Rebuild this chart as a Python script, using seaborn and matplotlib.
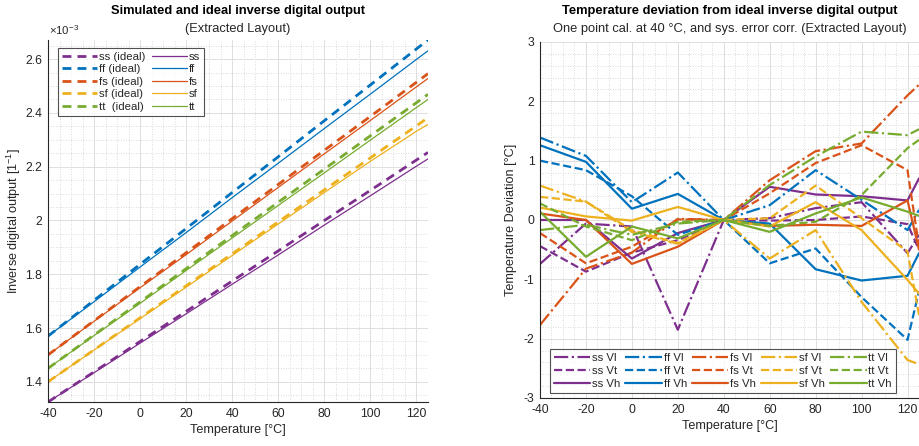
import matplotlib
matplotlib.use("Agg")
import matplotlib.pyplot as plt
from matplotlib.ticker import MultipleLocator, FuncFormatter, AutoMinorLocator
import seaborn as sns

sns.set_theme(style="white")
plt.rcParams["font.family"] = ["Liberation Sans", "DejaVu Sans"]
plt.rcParams["mathtext.fontset"] = "custom"
plt.rcParams["mathtext.rm"] = "Liberation Sans"
plt.rcParams["mathtext.it"] = "Liberation Sans:italic"
plt.rcParams["axes.unicode_minus"] = False

# ---------------- data ----------------
temps = [-40, -20, 0, 20, 40, 60, 80, 100, 120, 125]

corners = ["ss", "ff", "fs", "sf", "tt"]
colors = {"ss": "#7E2F8E", "ff": "#0072BD", "fs": "#D95319",
          "sf": "#EDB120", "tt": "#77AC30"}

# inverse digital output, units of 1e-3
ideal_ss = [1.325, 1.437, 1.550, 1.662, 1.775, 1.887, 2.000, 2.112, 2.225, 2.253]
ideal_ff = [1.570, 1.703, 1.837, 1.970, 2.104, 2.237, 2.371, 2.504, 2.638, 2.671]
ideal_fs = [1.500, 1.627, 1.754, 1.880, 2.007, 2.134, 2.261, 2.387, 2.514, 2.546]
ideal_sf = [1.400, 1.519, 1.638, 1.757, 1.876, 1.995, 2.114, 2.233, 2.352, 2.382]
ideal_tt = [1.450, 1.574, 1.697, 1.821, 1.944, 2.068, 2.191, 2.315, 2.438, 2.469]

sim_ss = [1.325, 1.434, 1.544, 1.653, 1.763, 1.872, 1.983, 2.092, 2.202, 2.229]
sim_ff = [1.570, 1.698, 1.827, 1.955, 2.085, 2.213, 2.342, 2.470, 2.599, 2.631]
sim_fs = [1.500, 1.625, 1.750, 1.873, 1.998, 2.123, 2.248, 2.372, 2.497, 2.528]
sim_sf = [1.400, 1.518, 1.635, 1.752, 1.870, 1.987, 2.104, 2.220, 2.332, 2.357]
sim_tt = [1.450, 1.572, 1.692, 1.814, 1.935, 2.056, 2.177, 2.299, 2.420, 2.450]

ideal = {"ss": ideal_ss, "ff": ideal_ff, "fs": ideal_fs, "sf": ideal_sf, "tt": ideal_tt}
sim = {"ss": sim_ss, "ff": sim_ff, "fs": sim_fs, "sf": sim_sf, "tt": sim_tt}
ideal_labels = ["ss (ideal)", "ff (ideal)", "fs (ideal)", "sf (ideal)", "tt  (ideal)"]

# temperature deviation [°C] per corner and supply voltage
dev_ss_vl = [-0.74, -0.06, -0.11, -1.85, 0.0, 0.03, 0.20, 0.30, -0.56, -0.25]
dev_ss_vt = [-0.44, -0.87, -0.55, -0.34, 0.0, -0.01, 0.00, 0.06, -0.07, -0.50]
dev_ss_vh = [0.00, 0.00, -0.65, -0.22, 0.0, 0.56, 0.43, 0.40, 0.33, 0.70]
dev_ff_vl = [1.39, 1.08, 0.30, 0.80, 0.0, 0.25, 0.84, 0.34, -0.17, 0.17]
dev_ff_vt = [1.00, 0.84, 0.40, -0.25, 0.0, -0.73, -0.48, -1.30, -2.02, -1.20]
dev_ff_vh = [1.26, 0.98, 0.19, 0.44, 0.0, -0.06, -0.83, -1.02, -0.94, -0.56]
dev_fs_vl = [-1.77, -0.82, -0.55, 0.02, 0.0, 0.67, 1.16, 1.29, 2.10, 2.28]
dev_fs_vt = [-0.22, -0.73, -0.45, 0.01, 0.0, 0.45, 0.96, 1.26, 0.84, -0.45]
dev_fs_vh = [0.11, 0.00, -0.74, -0.45, 0.0, -0.10, -0.08, -0.10, 0.33, -0.50]
dev_sf_vl = [0.58, 0.31, -0.20, -0.40, 0.0, -0.65, -0.17, -1.38, -2.36, -2.43]
dev_sf_vt = [0.39, 0.31, -0.17, -0.39, 0.0, 0.03, 0.58, 0.03, -0.53, -1.60]
dev_sf_vh = [0.21, 0.06, -0.01, 0.22, 0.0, -0.11, 0.30, -0.17, -1.01, -1.24]
dev_tt_vl = [-0.17, -0.08, -0.25, -0.06, 0.0, 0.59, 1.07, 1.49, 1.43, 1.53]
dev_tt_vt = [0.28, -0.11, -0.34, -0.03, 0.0, -0.10, -0.03, 0.42, 1.21, 1.35]
dev_tt_vh = [0.14, -0.62, -0.11, -0.31, 0.0, -0.20, 0.11, 0.38, 0.14, 0.07]

deviation = {
    ("ss", "Vl"): dev_ss_vl, ("ss", "Vt"): dev_ss_vt, ("ss", "Vh"): dev_ss_vh,
    ("ff", "Vl"): dev_ff_vl, ("ff", "Vt"): dev_ff_vt, ("ff", "Vh"): dev_ff_vh,
    ("fs", "Vl"): dev_fs_vl, ("fs", "Vt"): dev_fs_vt, ("fs", "Vh"): dev_fs_vh,
    ("sf", "Vl"): dev_sf_vl, ("sf", "Vt"): dev_sf_vt, ("sf", "Vh"): dev_sf_vh,
    ("tt", "Vl"): dev_tt_vl, ("tt", "Vt"): dev_tt_vt, ("tt", "Vh"): dev_tt_vh,
}
voltages = ["Vl", "Vt", "Vh"]
vstyles = {"Vl": "-.", "Vt": "--", "Vh": "-"}

# ---------------- figure ----------------
W, H = 919, 446
fig = plt.figure(figsize=(W / 100, H / 100), dpi=100)
ax1 = fig.add_axes([48 / W, 1 - 402 / H, 380 / W, 362 / H])
ax2 = fig.add_axes([540 / W, 1 - 398 / H, 379 / W, 356 / H])

TXT = "#262626"
FS = 8.8      # tick labels / axis labels
FT = 9.3      # titles
FL = 8.2      # legends


def style_axes(ax):
    for s in ["top", "right"]:
        ax.spines[s].set_visible(False)
    for s in ["left", "bottom"]:
        ax.spines[s].set_color(TXT)
        ax.spines[s].set_linewidth(0.8)
    ax.tick_params(which="major", direction="in", length=3, width=0.6,
                   colors=TXT, labelsize=FS, pad=4)
    ax.tick_params(which="minor", length=0)
    ax.grid(True, which="major", color="#dedede", lw=0.7, ls="-")
    ax.grid(True, which="minor", color="#cfcfcf", lw=0.6, ls=(0, (1, 2)))
    ax.set_axisbelow(True)


# ---- left: inverse digital output ----
for c, lab in zip(corners, ideal_labels):
    sns.lineplot(x=temps, y=ideal[c], ax=ax1, color=colors[c], lw=2.0,
                 linestyle=(0, (3.2, 2.2)), label=lab, estimator=None, sort=False)
for c in corners:
    sns.lineplot(x=temps, y=sim[c], ax=ax1, color=colors[c], lw=0.9,
                 linestyle="-", label=c, estimator=None, sort=False)

all_vals = [v for c in corners for v in ideal[c] + sim[c]]
ax1.set_xlim(-40, 125)
ax1.set_ylim(min(all_vals), max(all_vals))
ax1.xaxis.set_major_locator(MultipleLocator(20))
ax1.xaxis.set_minor_locator(AutoMinorLocator(4))
ax1.yaxis.set_major_locator(MultipleLocator(0.2))
ax1.yaxis.set_minor_locator(AutoMinorLocator(4))
ax1.yaxis.set_major_formatter(FuncFormatter(lambda v, p: f"{v:g}"))
style_axes(ax1)
ax1.set_xlabel("Temperature [°C]", fontsize=FS + 0.3, color=TXT, labelpad=3)
ax1.set_ylabel("Inverse digital output [1$^{-1}$]", fontsize=FS + 0.3, color=TXT, labelpad=2)
ax1.text(0.003, 1.008, r"$\times$10$^{-3}$", transform=ax1.transAxes,
         fontsize=FL, color=TXT, ha="left", va="bottom")
ax1.text(0.5, 1 + 29 / 362, "Simulated and ideal inverse digital output",
         transform=ax1.transAxes, ha="center", va="center",
         fontsize=FT, fontweight="bold", color="black")
ax1.text(0.5, 1 + 11 / 362, "(Extracted Layout)", transform=ax1.transAxes,
         ha="center", va="center", fontsize=FT, color=TXT)
leg1 = ax1.legend(ncol=2, loc="upper left", bbox_to_anchor=(0.026, 0.978),
                  fontsize=FL, frameon=True, fancybox=False, handlelength=3.1,
                  handletextpad=0.15, columnspacing=0.6, borderpad=0.35,
                  labelspacing=0.22, borderaxespad=0)
leg1.get_frame().set_edgecolor("#262626")
leg1.get_frame().set_linewidth(0.8)

# ---- right: temperature deviation ----
for c in corners:
    for v in voltages:
        sns.lineplot(x=temps, y=deviation[(c, v)], ax=ax2, color=colors[c],
                     lw=1.6, linestyle=vstyles[v], label=f"{c} {v}",
                     estimator=None, sort=False)

ax2.set_xlim(-40, 125)
ax2.set_ylim(-3, 3)
ax2.xaxis.set_major_locator(MultipleLocator(20))
ax2.xaxis.set_minor_locator(AutoMinorLocator(4))
ax2.yaxis.set_major_locator(MultipleLocator(1))
ax2.yaxis.set_minor_locator(AutoMinorLocator(5))
style_axes(ax2)
ax2.set_xlabel("Temperature [°C]", fontsize=FS + 0.3, color=TXT, labelpad=3)
ax2.set_ylabel("Temperature Deviation [°C]", fontsize=FS + 0.3, color=TXT, labelpad=5)
ax2.text(0.5, 1 + 31 / 356, "Temperature deviation from ideal inverse digital output",
         transform=ax2.transAxes, ha="center", va="center",
         fontsize=FT, fontweight="bold", color="black")
ax2.text(0.5, 1 + 13 / 356,
         "One point cal. at 40 °C, and sys. error corr. (Extracted Layout)",
         transform=ax2.transAxes, ha="center", va="center", fontsize=FT, color=TXT)
leg2 = ax2.legend(ncol=5, loc="lower left", bbox_to_anchor=(0.026, 0.014),
                  fontsize=FL, frameon=True, fancybox=False, handlelength=3.2,
                  handletextpad=0.15, columnspacing=0.45, borderpad=0.35,
                  labelspacing=0.25, borderaxespad=0)
leg2.get_frame().set_edgecolor("#262626")
leg2.get_frame().set_linewidth(0.8)

fig.savefig("out.png", dpi=100)
